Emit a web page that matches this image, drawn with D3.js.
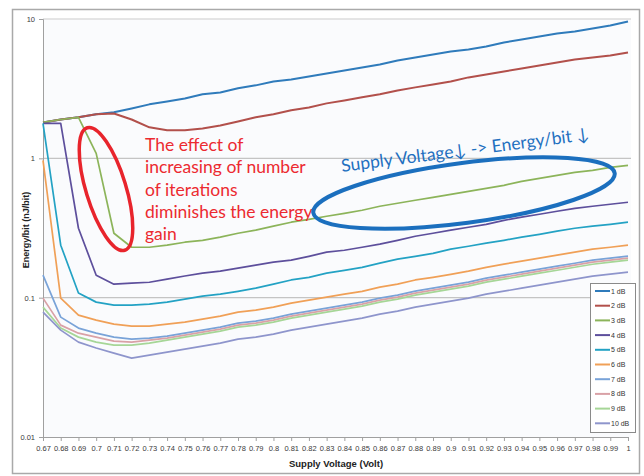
<!DOCTYPE html>
<html>
<head>
<meta charset="utf-8">
<script src="https://cdn.jsdelivr.net/npm/d3@7"></script>
<style>
  body { margin: 0; background: #fff; }
  svg { display: block; font-family: "Liberation Sans", Arial, sans-serif; }
</style>
</head>
<body>
<svg id="chart" width="644" height="476"></svg>
<script>

// supply voltage categories (x axis)
const voltages = ["0.67", "0.68", "0.69", "0.7", "0.71", "0.72", "0.73", "0.74", "0.75", "0.76",
  "0.77", "0.78", "0.79", "0.8", "0.81", "0.82", "0.83", "0.84", "0.85", "0.86", "0.87", "0.88",
  "0.89", "0.9", "0.91", "0.92", "0.93", "0.94", "0.95", "0.96", "0.97", "0.98", "0.99", "1"];

const yTicks = [0.01, 0.1, 1, 10];

// energy per bit (nJ/bit), one array per SNR
const e1dB = [1.81, 1.90, 1.97, 2.07, 2.14, 2.28, 2.44, 2.56, 2.69, 2.88, 2.97, 3.18, 3.34, 3.56,
  3.68, 3.87, 4.07, 4.27, 4.49, 4.72, 5.04, 5.30, 5.57, 5.85, 6.04, 6.35, 6.79, 7.13, 7.49, 7.87,
  8.14, 8.55, 8.98, 9.60];
const e2dB = [1.81, 1.90, 1.97, 2.07, 2.10, 1.90, 1.67, 1.59, 1.59, 1.64, 1.72, 1.84, 1.97, 2.07,
  2.21, 2.32, 2.48, 2.60, 2.74, 2.88, 3.07, 3.23, 3.39, 3.56, 3.81, 4.00, 4.20, 4.42, 4.64, 4.88,
  5.13, 5.30, 5.47, 5.75];
const e3dB = [1.81, 1.90, 1.97, 1.086, 0.290, 0.230, 0.230, 0.238, 0.250, 0.258, 0.272, 0.290,
  0.305, 0.326, 0.348, 0.365, 0.384, 0.403, 0.424, 0.453, 0.476, 0.500, 0.525, 0.552, 0.580,
  0.609, 0.640, 0.684, 0.719, 0.755, 0.794, 0.820, 0.862, 0.891];
const e4dB = [1.78, 1.78, 0.315, 0.145, 0.125, 0.127, 0.129, 0.136, 0.143, 0.150, 0.155, 0.163,
  0.171, 0.180, 0.186, 0.198, 0.212, 0.219, 0.230, 0.242, 0.258, 0.276, 0.290, 0.305, 0.320,
  0.336, 0.359, 0.378, 0.397, 0.417, 0.438, 0.453, 0.468, 0.484];
const e5dB = [1.78, 0.238, 0.108, 0.0929, 0.0884, 0.0884, 0.0898, 0.0929, 0.0975, 0.1025, 0.106,
  0.111, 0.117, 0.125, 0.134, 0.140, 0.150, 0.157, 0.165, 0.177, 0.189, 0.198, 0.208, 0.223,
  0.234, 0.246, 0.258, 0.272, 0.285, 0.300, 0.315, 0.326, 0.336, 0.348];
const e6dB = [0.967, 0.0992, 0.0749, 0.0690, 0.0646, 0.0625, 0.0625, 0.0646, 0.0667, 0.0701,
  0.0737, 0.0787, 0.0813, 0.0855, 0.0913, 0.0960, 0.1008, 0.106, 0.111, 0.119, 0.125, 0.134,
  0.140, 0.147, 0.155, 0.165, 0.174, 0.183, 0.192, 0.202, 0.212, 0.223, 0.230, 0.238];
const e7dB = [0.145, 0.0725, 0.0605, 0.0556, 0.0521, 0.0504, 0.0513, 0.0530, 0.0556, 0.0585,
  0.0615, 0.0657, 0.0679, 0.0713, 0.0762, 0.0800, 0.0841, 0.0884, 0.0929, 0.0992, 0.1042,
  0.1113, 0.1170, 0.1229, 0.1292, 0.1380, 0.1450, 0.1523, 0.1601, 0.1682, 0.1767, 0.1857,
  0.1920, 0.1984];
const e8dB = [0.0992, 0.0635, 0.0556, 0.0521, 0.0488, 0.0480, 0.0496, 0.0513, 0.0538, 0.0566,
  0.0595, 0.0635, 0.0657, 0.0690, 0.0737, 0.0774, 0.0814, 0.0855, 0.0898, 0.0960, 0.1008,
  0.1077, 0.1132, 0.1189, 0.1250, 0.1335, 0.1403, 0.1474, 0.1549, 0.1627, 0.1710, 0.1797,
  0.1857, 0.1920];
const e9dB = [0.0855, 0.0605, 0.0521, 0.0480, 0.0457, 0.0457, 0.0472, 0.0496, 0.0521, 0.0547,
  0.0575, 0.0615, 0.0635, 0.0667, 0.0713, 0.0749, 0.0787, 0.0827, 0.0869, 0.0929, 0.0975,
  0.1042, 0.1095, 0.1151, 0.1209, 0.1292, 0.1357, 0.1426, 0.1498, 0.1574, 0.1654, 0.1738,
  0.1797, 0.1857];
const e10dB = [0.0787, 0.0585, 0.0480, 0.0435, 0.0400, 0.0368, 0.0387, 0.0407, 0.0427, 0.0449,
  0.0472, 0.0504, 0.0521, 0.0547, 0.0585, 0.0615, 0.0646, 0.0679, 0.0713, 0.0762, 0.0800,
  0.0855, 0.0898, 0.0944, 0.0992, 0.1060, 0.1113, 0.1170, 0.1229, 0.1292, 0.1357, 0.1426,
  0.1474, 0.1523];

const seriesNames = ["1 dB", "2 dB", "3 dB", "4 dB", "5 dB", "6 dB", "7 dB", "8 dB", "9 dB", "10 dB"];
const seriesColors = ["#2f7bbb", "#b2504b", "#8cb45a", "#5d4f9c", "#23a2c4",
  "#f0a057", "#79a3d8", "#d9a1a6", "#a6d697", "#8e95cc"];

const redNote = ["The effect of", "increasing of number", "of iterations",
  "diminishes the energy", "gain"];
const blueNote = "Supply Voltage\u2193 -> Energy/bit \u2193";

const series = [e1dB, e2dB, e3dB, e4dB, e5dB, e6dB, e7dB, e8dB, e9dB, e10dB]
  .map((values, i) => ({name: seriesNames[i], color: seriesColors[i], values: values}));

const svg = d3.select("#chart");
const plot = {left: 43, right: 628, top: 19, bottom: 437};

const x = d3.scalePoint().domain(voltages).range([plot.left, plot.right]);
const y = d3.scaleLog().domain([0.01, 10]).range([plot.bottom, plot.top]);

// outer frame and plot background
svg.append("rect")
    .attr("x", 12.5).attr("y", 9.5)
    .attr("width", 627).attr("height", 464)
    .attr("fill", "#fff")
    .attr("stroke", "#a9a9a9")
    .attr("stroke-width", 1.5);

svg.append("rect")
    .attr("x", plot.left).attr("y", plot.top)
    .attr("width", plot.right - plot.left + 3)
    .attr("height", plot.bottom - plot.top)
    .attr("fill", "#fafbfd");

// horizontal gridlines
svg.append("g")
  .selectAll("line")
  .data(yTicks.filter(d => d > 0.01))
  .enter()
  .append("line")
    .attr("x1", plot.left).attr("x2", plot.right + 3)
    .attr("y1", d => y(d)).attr("y2", d => y(d))
    .attr("stroke", d => d == 10 ? "#dcdcdc" : "#c4c4c4")
    .attr("stroke-width", 1.3);

// axes
const xAxis = svg.append("g")
    .attr("transform", `translate(0,${plot.bottom})`)
    .call(d3.axisBottom(x).tickSize(4).tickPadding(5));

const yAxis = svg.append("g")
    .attr("transform", `translate(${plot.left},0)`)
    .call(d3.axisLeft(y).tickValues(yTicks).tickFormat(d => String(d)).tickSize(4).tickPadding(4));

[xAxis, yAxis].forEach(ax => {
  ax.select(".domain").attr("stroke", "#a0a0a0");
  ax.selectAll(".tick line").attr("stroke", "#a0a0a0");
  ax.selectAll(".tick text")
      .attr("fill", "#3a3a3a")
      .style("font-size", "7.5px")
      .style("font-family", "'Liberation Sans', Arial, sans-serif");
});

// axis titles
svg.append("text")
    .attr("x", 336).attr("y", 467)
    .attr("text-anchor", "middle")
    .style("font-size", "9.5px")
    .style("font-weight", "bold")
    .attr("fill", "#222")
    .text("Supply Voltage (Volt)");

svg.append("text")
    .attr("transform", "translate(29,230) rotate(-90)")
    .attr("text-anchor", "middle")
    .style("font-size", "9px")
    .style("font-weight", "bold")
    .attr("fill", "#222")
    .text("Energy/bit (nJ/bit)");

// series lines
const line = d3.line()
    .x((d, i) => x(voltages[i]))
    .y(d => y(d));

svg.append("g")
  .selectAll("path")
  .data(series)
  .enter()
  .append("path")
    .attr("d", d => line(d.values))
    .attr("fill", "none")
    .attr("stroke", d => d.color)
    .attr("stroke-width", (d, i) => i < 2 ? 2 : 1.7)
    .attr("stroke-linejoin", "round");

// legend
const legend = svg.append("g");
legend.append("rect")
    .attr("x", 590.5).attr("y", 283.5)
    .attr("width", 45).attr("height", 149)
    .attr("fill", "#fff")
    .attr("stroke", "#8a8a8a");

const entries = legend.selectAll("g.entry")
  .data(series)
  .enter()
  .append("g")
    .attr("class", "entry")
    .attr("transform", (d, i) => `translate(0,${291 + i * 14.7})`);

entries.append("line")
    .attr("x1", 595).attr("x2", 610)
    .attr("stroke", d => d.color)
    .attr("stroke-width", 2);

entries.append("text")
    .attr("x", 611).attr("y", 2.5)
    .style("font-size", "7px")
    .attr("fill", "#333")
    .text(d => d.name);

// annotations
svg.append("ellipse")
    .attr("transform", "translate(106,189) rotate(-17)")
    .attr("rx", 20).attr("ry", 64)
    .attr("fill", "none")
    .attr("stroke", "#e8242c")
    .attr("stroke-width", 3.5);

svg.append("g")
  .selectAll("text")
  .data(redNote)
  .enter()
  .append("text")
    .attr("x", 145)
    .attr("y", (d, i) => 151 + i * 22.3)
    .style("font-family", "Lato, 'Open Sans', sans-serif")
    .style("font-size", "17.5px")
    .attr("fill", "#ec2a30")
    .text(d => d);

svg.append("ellipse")
    .attr("transform", "translate(464,193) rotate(-7.5)")
    .attr("rx", 152).attr("ry", 30)
    .attr("fill", "none")
    .attr("stroke", "#1b6fbe")
    .attr("stroke-width", 4);

svg.append("text")
    .attr("transform", "translate(342,172) rotate(-7.4)")
    .style("font-family", "Lato, 'Open Sans', sans-serif")
    .style("font-size", "17.5px")
    .attr("fill", "#1f70c0")
    .text(blueNote);

</script>
</body>
</html>
